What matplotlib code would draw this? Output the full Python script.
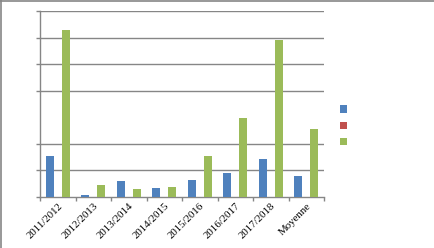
import matplotlib
matplotlib.use("Agg")
import matplotlib.pyplot as plt
import numpy as np
from matplotlib.lines import Line2D
from matplotlib.patches import Patch

categories = ["2011/2012", "2012/2013", "2013/2014", "2014/2015", "2015/2016",
              "2016/2017", "2017/2018", "Moyenne"]
series_blue = [1.55, 0.06, 0.60, 0.34, 0.65, 0.91, 1.43, 0.80]
series_red = [0, 0, 0, 0, 0, 0, 0, 0]
series_green = [6.28, 0.45, 0.30, 0.38, 1.53, 2.98, 5.90, 2.56]
grid_levels = [0, 1, 2, 4, 5, 6, 7]

colors = ["#4F81BD", "#C0504D", "#9BBB59"]
axis_gray = "#868686"

fig = plt.figure(figsize=(4.34, 2.48), dpi=100)
ax = fig.add_axes([40/434, 51/248, 284/434, 186/248])

x = np.arange(len(categories))
w = 0.225
for i, (vals, c) in enumerate(zip([series_blue, series_red, series_green], colors)):
    ax.bar(x + (i - 1) * w, vals, width=w, color=c, zorder=3)

ax.set_xlim(-0.5, len(categories) - 0.5)
ax.set_ylim(0, 7)
ax.set_yticks(grid_levels)
ax.set_yticklabels([])
for g in grid_levels[1:]:
    ax.axhline(g, color=axis_gray, lw=1.0, zorder=1)

ax.set_xticks(np.arange(-0.5, len(categories), 1.0))
ax.set_xticklabels([])
ax.set_xticks(x, minor=True)
ax.set_xticklabels(categories, minor=True, rotation=45, ha="right",
                   rotation_mode="anchor", family="Liberation Serif", fontsize=7.8)
ax.tick_params(axis="x", which="minor", length=0, pad=3)
ax.tick_params(axis="x", which="major", length=3, color=axis_gray, width=1)
ax.tick_params(axis="y", length=3, color=axis_gray, width=1)

for s in ["top", "right"]:
    ax.spines[s].set_visible(False)
for s in ["left", "bottom"]:
    ax.spines[s].set_color(axis_gray)
    ax.spines[s].set_linewidth(1)

handles = [Patch(facecolor=c, edgecolor="none") for c in colors]
fig.legend(handles, ["", "", ""], loc="center left",
           bbox_to_anchor=(336/434, 1 - 126/248), frameon=False,
           handlelength=0.6, handleheight=0.6, labelspacing=0.55,
           fontsize=8, borderaxespad=0, handletextpad=0.2)

fig.add_artist(Line2D([0.5/434, 0.5/434], [0, 1], color=axis_gray, lw=1.2, transform=fig.transFigure))
fig.add_artist(Line2D([0, 1], [1 - 0.5/248, 1 - 0.5/248], color=axis_gray, lw=1.2, transform=fig.transFigure))

fig.savefig("out.png", dpi=100)
